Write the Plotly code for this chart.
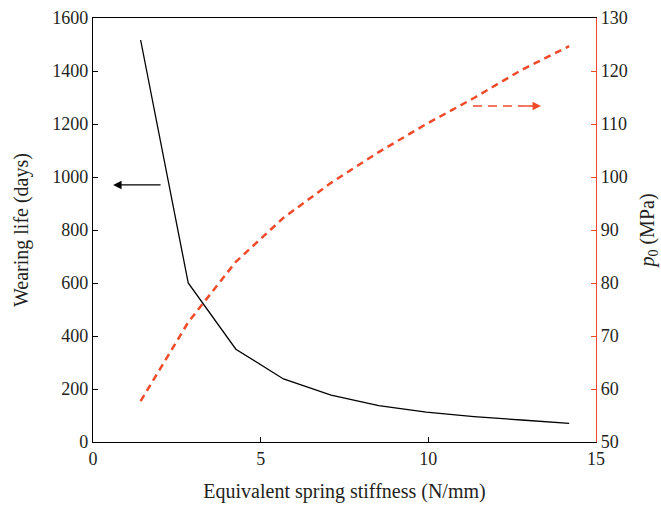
import plotly.graph_objects as go

stiffness = [1.42, 2.84, 4.26, 5.68, 7.10, 8.52, 9.94, 11.36, 12.78, 14.20]
wearing_life = [1517, 600, 350, 238, 177, 137, 113, 96, 83, 70]
p0 = [57.7, 72.6, 84.0, 92.3, 98.9, 104.7, 110.0, 114.9, 120.2, 124.7]

red_arrow_x = [11.33, 13.0]
red_arrow_y = [113.4, 113.4]

RED = "#ef4a2a"
FONT = "Liberation Serif"
TXT = "#231f20"

fig = go.Figure()
fig.add_trace(go.Scatter(x=stiffness, y=wearing_life, mode="lines",
                         line=dict(color="black", width=1.3), showlegend=False))
fig.add_trace(go.Scatter(x=stiffness, y=p0, mode="lines", yaxis="y2",
                         line=dict(color=RED, width=2.5, dash="7px,5px"), showlegend=False))
fig.add_trace(go.Scatter(x=red_arrow_x, y=red_arrow_y, mode="lines", yaxis="y2",
                         line=dict(color=RED, width=1.3, dash="9px,6px"), showlegend=False))

fig.add_annotation(x=0.6, y=970, ax=2.06, ay=970, xref="x", yref="y", axref="x", ayref="y",
                   showarrow=True, arrowhead=2, arrowsize=1.3, arrowwidth=1.3,
                   arrowcolor="black", text="")
fig.add_annotation(x=13.36, y=113.4, ax=12.9, ay=113.4, xref="x", yref="y2", axref="x", ayref="y2",
                   showarrow=True, arrowhead=2, arrowsize=1.3, arrowwidth=1.3,
                   arrowcolor=RED, text="")

tickfont = dict(size=18)

fig.update_layout(
    width=661, height=507,
    margin=dict(l=93, r=65, t=18, b=65, autoexpand=False),
    plot_bgcolor="white", paper_bgcolor="white",
    font=dict(family=FONT, size=17, color=TXT),
    xaxis=dict(range=[0, 15], tickvals=[0, 5, 10, 15], ticks="inside", ticklen=5,
               tickcolor="black", tickfont=tickfont, automargin=False,
               showline=True, linecolor="black", linewidth=1.3, mirror=True,
               showgrid=False, zeroline=False,
               title=dict(text="Equivalent spring stiffness (N/mm)", standoff=16)),
    yaxis=dict(range=[0, 1600], dtick=200, ticks="inside", ticklen=5,
               tickcolor="black", tickfont=tickfont, automargin=False,
               showline=True, linecolor="black", linewidth=1.3,
               showgrid=False, zeroline=False,
               title=dict(text="Wearing life (days)", standoff=18)),
    yaxis2=dict(range=[50, 130], dtick=10, ticks="inside", ticklen=5, tickcolor=RED,
                tickfont=tickfont, automargin=False,
                overlaying="y", side="right", anchor="x",
                showline=True, linecolor=RED, linewidth=1.3,
                showgrid=False, zeroline=False,
                title=dict(text="<i>p</i><sub>0</sub> (MPa)", standoff=14)),
)

fig.write_html("out.html")
